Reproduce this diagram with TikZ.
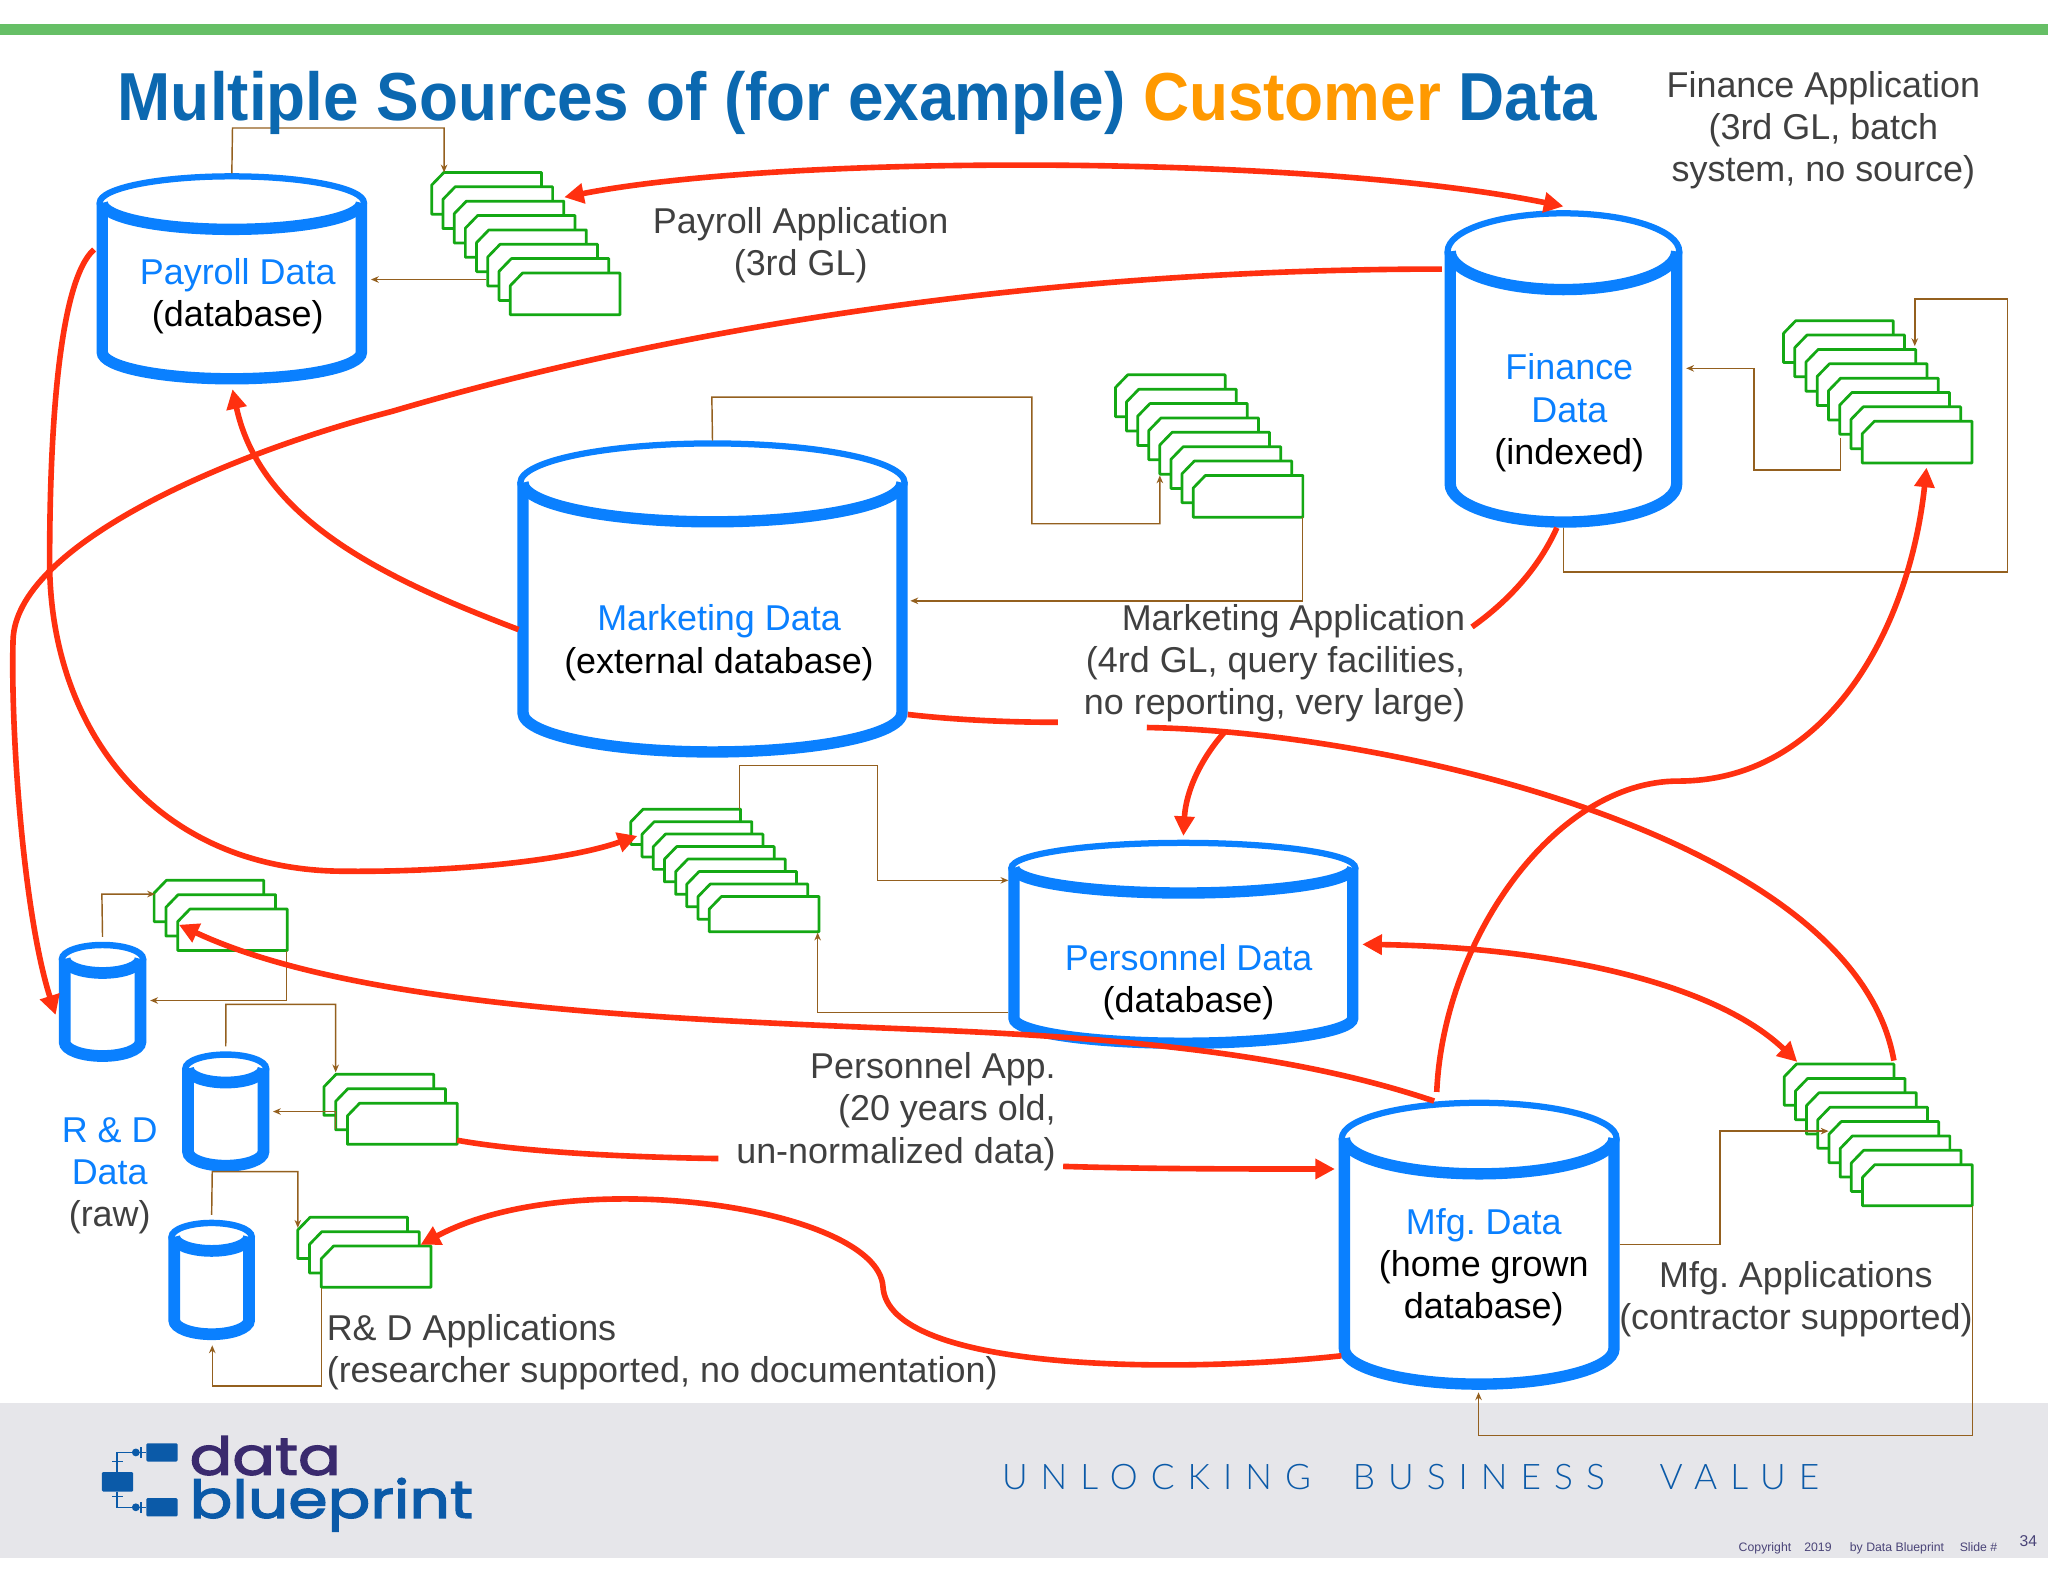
\documentclass[tikz,border=0pt]{standalone}
\usepackage{fontspec}
\setmainfont{Liberation Sans}
\newfontfamily\titlefont[FakeStretch=0.94]{Liberation Sans}
\newfontfamily\logofont[FakeStretch=1.21,FakeBold=2.6]{Poppins}
\newfontfamily\tagfont[LetterSpace=37,UprightFont={* Light}]{Lato}
\usetikzlibrary{arrows.meta}
\definecolor{dbblue}{HTML}{0A80FF}
\definecolor{titleblue}{HTML}{0B68B0}
\definecolor{titleorange}{HTML}{FF9900}
\definecolor{barGreen}{HTML}{66BF66}
\definecolor{bandGray}{HTML}{E6E6EA}
\definecolor{tabGreen}{HTML}{14A814}
\definecolor{linkBrown}{HTML}{94601F}
\definecolor{flowRed}{HTML}{FF3010}
\definecolor{labelGray}{HTML}{404040}
\definecolor{logoPurple}{HTML}{3A2A6E}
\definecolor{logoBlue}{HTML}{0B5AA8}
\definecolor{footText}{HTML}{4A4478}
\tikzset{
  x=1pt,y=-1pt,
  lab/.style={inner sep=0pt,align=center,font=\fontsize{27.5}{32.3}\selectfont,text=labelGray},
  dblab/.style={lab,text=black},
  tab/.style={draw=tabGreen,fill=white,line width=2.1pt,line join=round},
  link/.style={draw=linkBrown,line width=1.1pt,-{Stealth[length=6pt,width=5pt]}},
  flow/.style={draw=flowRed,line width=4.3pt},
  flowto/.style={flow,-{Triangle[length=15pt,width=15pt]}},
  flowboth/.style={flow,{Triangle[length=15pt,width=15pt]}-{Triangle[length=15pt,width=15pt]}},
}
% name, xl, xr, yback, ybot, ry, lw  (centre-line values)
\newcommand{\cylinderdb}[7]{%
  \pgfmathsetmacro{\ccx}{(#2+#3)/2}\pgfmathsetmacro{\crx}{(#3-#2)/2}%
  \pgfmathsetmacro{\ccw}{#3-#2}\pgfmathsetmacro{\cch}{#5-#4}\pgfmathsetmacro{\ccy}{(#4+#5)/2}%
  \pgfmathsetmacro{\cmid}{#4+#6}\pgfmathsetmacro{\brx}{\crx+.225*#7}%
  \node[inner sep=0pt,minimum width=\ccw pt,minimum height=\cch pt] (#1) at (\ccx,\ccy) {};%
  \fill[white] (#2,\cmid) -- (#2,{#5-#6})
    .. controls (#2,{#5-#6+.5523*#6}) and ({\ccx-.5523*\crx},#5) .. (\ccx,#5)
    .. controls ({\ccx+.5523*\crx},#5) and (#3,{#5-#6+.5523*#6}) .. (#3,{#5-#6}) -- (#3,\cmid) -- cycle;%
  % walls and bottom
  \draw[dbblue,line width=#7pt] (#2,\cmid) -- (#2,{#5-#6})
    .. controls (#2,{#5-#6+.5523*#6}) and ({\ccx-.5523*\crx},#5) .. (\ccx,#5)
    .. controls ({\ccx+.5523*\crx},#5) and (#3,{#5-#6+.5523*#6}) .. (#3,{#5-#6}) -- (#3,\cmid);%
  % top: thin back edge, thick front edge
  \filldraw[draw=dbblue,fill=white,line width=.55*#7 pt] (\ccx,\cmid) ellipse [x radius=\brx pt,y radius=#6 pt];%
  \draw[dbblue,line width=#7pt] (#2,\cmid)
    .. controls (#2,{\cmid+.5523*#6}) and ({\ccx-.5523*\crx},{\cmid+#6}) .. (\ccx,{\cmid+#6})
    .. controls ({\ccx+.5523*\crx},{\cmid+#6}) and (#3,{\cmid+.5523*#6}) .. (#3,\cmid);%
}
% name, x, y, dx, dy, n, h
\newcommand{\tabstack}[7]{%
  \pgfmathsetmacro{\sw}{84+(#6-1)*#4}\pgfmathsetmacro{\sh}{#7+(#6-1)*#5}%
  \node[inner sep=0pt,minimum width=\sw pt,minimum height=\sh pt,anchor=north west] (#1) at (#2,#3) {};%
  \pgfmathtruncatemacro{\slast}{#6-1}%
  \foreach \i in {0,...,\slast}{%
    \pgfmathsetmacro{\tx}{#2+\i*#4}\pgfmathsetmacro{\ty}{#3+\i*#5}%
    \path[tab] ({\tx+9.4},\ty) -- ({\tx+84},\ty) -- ({\tx+84},{\ty+#7}) -- (\tx,{\ty+#7}) -- (\tx,{\ty+9.7}) -- cycle;%
  }%
}
\begin{document}
\frenchspacing
\begin{tikzpicture}
\useasboundingbox (0,0) rectangle (1568,1211);
\fill[white] (0,0) rectangle (1568,1211);
\fill[barGreen] (0,18) rectangle (1568,27);
\fill[bandGray] (0,1074) rectangle (1568,1193);

\cylinderdb{payroll}{78.3}{276.7}{135}{290}{20.3}{8.7}
\cylinderdb{finance}{1110.3}{1283.7}{163.3}{399.7}{29.2}{8.7}
\cylinderdb{marketing}{400.4}{690.6}{339.5}{575.7}{30}{8.7}
\cylinderdb{personnel}{776.3}{1035.7}{645.3}{798.7}{19.2}{8.7}
\cylinderdb{mfg}{1029.3}{1235.7}{844.3}{1059.7}{27.2}{8.7}
\cylinderdb{rdA}{49.5}{107.5}{723.5}{808.5}{10.7}{9}
\cylinderdb{rdB}{144}{201.7}{807.4}{892.5}{10.7}{9}
\cylinderdb{rdC}{133.4}{190.7}{936.3}{1021.5}{10.7}{9}

\tabstack{stackPay}{330.5}{132}{8.6}{11}{8}{32}
\tabstack{stackFin}{1365.5}{245.5}{8.6}{11}{8}{32}
\tabstack{stackMkt}{854}{287}{8.5}{11}{8}{32}
\tabstack{stackPer}{483}{619.5}{8.57}{9.55}{8}{27}
\tabstack{stackMfg}{1366}{814.7}{8.57}{11}{8}{31.5}
\tabstack{stackRdA}{118}{674}{9}{11}{3}{31.7}
\tabstack{stackRdB}{248}{822.4}{9}{11.1}{3}{31.5}
\tabstack{stackRdC}{228}{932}{9}{11}{3}{31.6}

% free link ends
\coordinate (payIn) at (340,132);
\coordinate (payOut) at (372,214);
\coordinate (payBack) at (284,214);
\coordinate (mktIn) at (888,364);
\coordinate (mktOut) at (997,396);
\coordinate (mktBack) at (697,460);
\coordinate (finOut) at (1409,335);
\coordinate (finBack) at (1291,282);
\coordinate (finUp) at (1197,404);
\coordinate (finIn) at (1466,265);
\coordinate (perOut) at (566,619);
\coordinate (perIn) at (772,674);
\coordinate (perLow) at (772,775);
\coordinate (perStack) at (626,714);
\coordinate (rdAIn) at (118.7,684.5);
\coordinate (rdAOut) at (219.5,728);
\coordinate (rdABack) at (115,766);
\coordinate (rdBIn) at (257,821);
\coordinate (rdBOut) at (257,864);
\coordinate (rdBBack) at (209,851);
\coordinate (rdBLow) at (162.5,897);
\coordinate (rdCIn) at (228,940);
\coordinate (rdCOut) at (246,986);
\coordinate (rdCBack) at (162.5,1030);
\coordinate (mfgOut) at (1240,953);
\coordinate (mfgStack) at (1400,866);
\coordinate (mfgStOut) at (1510,923);
\coordinate (mfgBack) at (1132,1066);

\draw[link] (payroll.north) ++(0,-2) -- (178,98) -- (340,98) -- (payIn);
\draw[link] (payOut) -- (payBack);
\draw[link] (marketing.north) ++(0,-2) -- (545,304) -- (790,304) -- (790,401) -- (888,401) -- (mktIn);
\draw[link] (mktOut) -- (997,460) -- (mktBack);
\draw[link] (finOut) -- (1409,360) -- (1343,360) -- (1343,282) -- (finBack);
\draw[link] (finUp) -- (1197,438) -- (1537,438) -- (1537,229) -- (1466,229) -- (finIn);
\draw[link] (perOut) -- (566,586) -- (672,586) -- (672,674) -- (perIn);
\draw[link] (perLow) -- (626,775) -- (perStack);
\draw[link] (rdA.north) ++(0,-6) -- (78,684.5) -- (rdAIn);
\draw[link] (rdAOut) -- (219.5,766) -- (rdABack);
\draw[link] (rdB.north) ++(0,-6) -- (173,769) -- (257,769) -- (rdBIn);
\draw[link] (rdBOut) -- (257,851) -- (rdBBack);
\draw[link] (rdC.north) ++(0,-6) -- (rdBLow) -- (228,897) -- (rdCIn);
\draw[link] (rdCOut) -- (246,1061) -- (162.5,1061) -- (rdCBack);
\draw[link] (mfgOut) -- (1317,953) -- (1317,866) -- (mfgStack);
\draw[link] (mfgStOut) -- (1510,1099) -- (1132,1099) -- (mfgBack);

% title
\node[inner sep=0pt,anchor=base west,font=\titlefont\bfseries\fontsize{52}{56}\selectfont,text=titleblue] (title) at (90,92)
  {Multiple Sources of (for example) \textcolor{titleorange}{Customer} Data};

% red flow ends
\coordinate (a1) at (432,151);  \coordinate (a2) at (1197,158);
\coordinate (b1) at (1104,206); \coordinate (b2) at (42.6,777);
\coordinate (c1) at (397,482);  \coordinate (c2) at (178,298);
\coordinate (d1) at (72,191);   \coordinate (d2) at (488,640);
\coordinate (e1) at (1192,404); \coordinate (e2) at (1127,480);
\coordinate (e3) at (695,547);  \coordinate (e4) at (810,553);
\coordinate (e5) at (878,557);  \coordinate (e6) at (1450,812);
\coordinate (f1) at (938,560);  \coordinate (f2) at (906,640);
\coordinate (g1) at (1043,723); \coordinate (g2) at (1376,813);
\coordinate (h1) at (1098,843); \coordinate (h2) at (137,708);
\coordinate (i1) at (1100,836); \coordinate (i2) at (1475,358);
\coordinate (j1) at (350,873);  \coordinate (j2) at (550,887);
\coordinate (j3) at (814,893);  \coordinate (j4) at (1022,895);
\coordinate (k1) at (1027,1038);\coordinate (k2) at (322,953);

\draw[flowboth] (a1) .. controls (600,118) and (1000,118) .. (a2);
\draw[flowto] (b1) .. controls (800,206) and (520,250) .. (300,315)
   .. controls (165,350) and (12,420) .. (10,490)
   .. controls (8,560) and (18,700) .. (b2);
\draw[flowto] (c1) .. controls (300,445) and (200,400) .. (c2);
\draw[flowto] (d1) .. controls (45,215) and (38,330) .. (38,430)
   .. controls (38,560) and (120,665) .. (260,667)
   .. controls (340,668) and (430,660) .. (d2);
\draw[flow] (e1) .. controls (1178,435) and (1155,460) .. (e2);
\draw[flow] (e3) .. controls (730,551) and (770,553) .. (e4);
\draw[flow] (e5) .. controls (1060,560) and (1420,640) .. (e6);
\draw[flowto] (f1) .. controls (920,580) and (908,605) .. (f2);
\draw[flowboth] (g1) .. controls (1180,725) and (1310,750) .. (g2);
\draw[flowto] (h1) .. controls (1000,810) and (880,795) .. (700,788)
   .. controls (500,780) and (270,770) .. (h2);
\draw[flowto] (i1) .. controls (1105,720) and (1190,598) .. (1285,598)
   .. controls (1400,598) and (1462,480) .. (i2);
\draw[flow] (j1) .. controls (400,882) and (480,886) .. (j2);
\draw[flowto] (j3) .. controls (880,895) and (950,895) .. (j4);
\draw[flowto] (k1) .. controls (900,1052) and (680,1050) .. (676,985)
   .. controls (672,925) and (440,890) .. (k2);

% labels
\node[lab] (lPayA) at (613,188) {Payroll Application\\(3rd GL)};
\node[lab] (lFinA) at (1396,99.5) {Finance Application\\(3rd GL, batch\\system, no source)};
\node[dblab] (lPay) at (182,227) {\textcolor{dbblue}{Payroll Data}\\(database)};
\node[dblab] (lFin) at (1201.5,316) {\textcolor{dbblue}{Finance}\\\textcolor{dbblue}{Data}\\(indexed)};
\node[dblab] (lMkt) at (550.5,492) {\textcolor{dbblue}{Marketing Data}\\(external database)};
\node[lab,align=right,anchor=east] (lMktA) at (1122,508) {Marketing Application\\(4rd GL, query facilities,\\no reporting, very large)};
\node[dblab] (lPer) at (910,752) {\textcolor{dbblue}{Personnel Data}\\(database)};
\node[lab,align=right,anchor=east] (lPerA) at (808.5,851) {Personnel App.\\(20 years old,\\un-normalized data)};
\node[dblab] (lMfg) at (1136,970) {\textcolor{dbblue}{Mfg. Data}\\(home grown\\database)};
\node[lab] (lMfgA) at (1375,995) {Mfg. Applications\\(contractor supported)};
\node[lab,align=left,anchor=west] (lRdA) at (250,1035) {R\& D Applications\\(researcher supported, no documentation)};
\node[lab] (lRd) at (84,900) {\textcolor{dbblue}{R \& D}\\\textcolor{dbblue}{Data}\\(raw)};

% logo
\fill[logoBlue,rounded corners=1pt] (78,1127) rectangle (102,1142);
\fill[logoBlue,rounded corners=1pt] (112,1105) rectangle (136,1119);
\fill[logoBlue,rounded corners=1pt] (112,1147) rectangle (136,1161);
\draw[logoBlue,line width=1pt] (89.5,1127) -- (89.5,1112) -- (104,1112);
\draw[logoBlue,line width=1pt] (89.5,1142) -- (89.5,1154) -- (104,1154);
\draw[logoBlue,line width=1pt] (86,1119) -- (94,1119) (86,1146) -- (94,1146) (108,1108) -- (108,1116) (108,1150) -- (108,1158) (104,1112) -- (112,1112) (104,1154) -- (112,1154);
\fill[logoBlue] (104,1112) circle (3pt) (104,1154) circle (3pt);
\node[inner sep=0pt,anchor=west,align=left,font=\logofont\fontsize{40}{33}\selectfont] (logo) at (145,1136) {\textcolor{logoPurple}{data}\\\textcolor{logoBlue}{blueprint}};
\node[inner sep=0pt,anchor=base west,font=\tagfont\fontsize{27}{30}\selectfont,text=logoBlue] (tag) at (767,1140) {UNLOCKING\hspace{32pt}BUSINESS\hspace{42pt}VALUE};
\node[inner sep=0pt,anchor=base west,font=\fontsize{9.4}{11}\selectfont,text=footText] (foot) at (1331,1188) {Copyright\hspace{10pt}2019\hspace{14pt}by Data Blueprint\hspace{12pt}Slide \#};
\node[inner sep=0pt,anchor=base west,font=\fontsize{12}{14}\selectfont,text=footText] (page) at (1546,1184) {34};
\end{tikzpicture}
\end{document}
